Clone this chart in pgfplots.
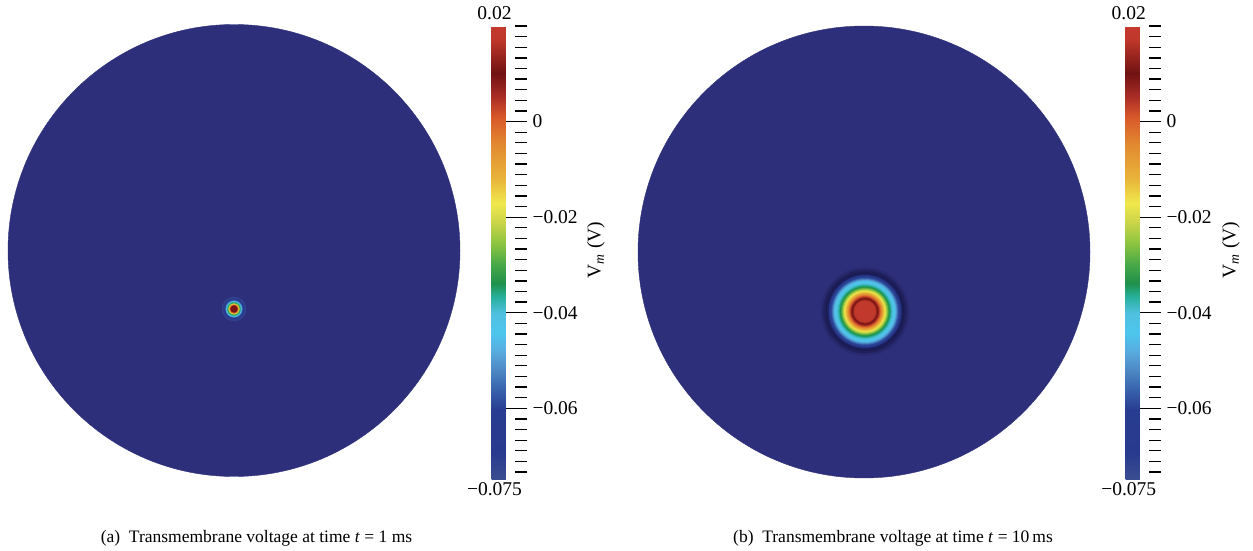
\documentclass[border=0pt]{standalone}
\usepackage{pgfplots}
\pgfplotsset{compat=1.18}
\usepackage{pgfplotstable}
\usepackage{fontspec}
\setmainfont{Liberation Serif}

\definecolor{bgdisk}{RGB}{46,47,122}
\definecolor{rimA}{RGB}{40,41,110}
\definecolor{rimB}{RGB}{31,32,92}
\definecolor{rimC}{RGB}{26,27,80}
\definecolor{rimD}{RGB}{30,34,100}

% rainbow map for V_m, positions = (V + 0.075) * 1000
\pgfplotsset{
  colormap={vm}{
    rgb255(0pt)=(60,78,145);
    rgb255(0.7pt)=(58,76,144);
    rgb255(5.6pt)=(40,58,142);
    rgb255(14.6pt)=(40,60,144);
    rgb255(19.5pt)=(58,104,176);
    rgb255(23pt)=(76,136,196);
    rgb255(26.5pt)=(88,168,220);
    rgb255(30.7pt)=(78,198,238);
    rgb255(34.9pt)=(80,192,224);
    rgb255(38.4pt)=(38,176,154);
    rgb255(41.2pt)=(32,144,74);
    rgb255(45.3pt)=(74,170,72);
    rgb255(49.5pt)=(140,196,64);
    rgb255(53.7pt)=(200,212,72);
    rgb255(57.9pt)=(240,232,76);
    rgb255(63.1pt)=(232,180,58);
    rgb255(70.1pt)=(226,138,48);
    rgb255(76pt)=(216,88,42);
    rgb255(80.2pt)=(170,45,38);
    rgb255(85.1pt)=(112,18,18);
    rgb255(92.1pt)=(190,55,42);
    rgb255(95pt)=(195,58,45)
  },
  disk/.style={
    hide axis, scale only axis, x=1pt, y=1pt,
    xmin=-230, xmax=230, ymin=-230, ymax=230,
    anchor=center, clip=false,
    colormap name=vm, point meta min=-0.075, point meta max=0.02,
    colorbar,
    colorbar style={
      at={(parent axis.north east)}, anchor=north west,
      width=23.5pt, height=454pt, scale only axis,
      scaled y ticks=false,
      ytick={-0.06,-0.04,-0.02,0},
      yticklabels={−0.06,−0.04,−0.02,0},
      minor ytick={-0.073333,-0.071111,...,0.0195},
      ytick pos=right, yticklabel pos=right,
      tick align=outside,
      major tick length=11pt, minor tick length=12pt,
      every major tick/.append style={line width=1.3pt, black},
      every minor tick/.append style={line width=1.3pt, black},
      extra y ticks={-0.06,-0.04,-0.02,0},
      extra y tick labels={},
      extra y tick style={tick align=inside, major tick length=9pt},
      yticklabel style={font=\fontsize{19.5}{20}\selectfont, xshift=3pt},
      axis line style={draw=none},
    },
  },
  ring/.style={
    scatter, only marks, mark=*, point meta=explicit,
    scatter/use mapped color={draw=mapped color, fill=mapped color, line width=0.3pt},
    visualization depends on={\thisrow{r} \as \rr},
    scatter/@pre marker code/.append style={/tikz/mark size=\rr pt},
  },
}

% radial V_m profiles of the excited spot (r in pt, v in V)
\pgfplotstableread{
x y r v
0 -58.5 12 -0.073
0 -58.5 11 -0.070
0 -58.5 10 -0.066
0 -58.5 9 -0.060
0 -58.5 8.5 -0.055
0 -58.5 8 -0.049
0 -58.5 7.5 -0.043
0 -58.5 7 -0.039
0 -58.5 6.5 -0.035
0 -58.5 6 -0.030
0 -58.5 5.5 -0.022
0 -58.5 5 -0.014
0 -58.5 4.5 -0.005
0 -58.5 4 0.002
0 -58.5 3.5 0.007
0 -58.5 3 0.010
0 -58.5 2 0.011
}\spotA

\pgfplotstableread{
x y r v
1 -59.5 36 -0.067
1 -59.5 35 -0.063
1 -59.5 34 -0.059
1 -59.5 33 -0.055
1 -59.5 32 -0.051
1 -59.5 31 -0.047
1 -59.5 30 -0.044
1 -59.5 29 -0.042
1 -59.5 28 -0.040
1 -59.5 27 -0.038
1 -59.5 26 -0.036
1 -59.5 25 -0.034
1 -59.5 24 -0.031
1 -59.5 23 -0.027
1 -59.5 22 -0.023
1 -59.5 21 -0.019
1 -59.5 20 -0.016
1 -59.5 19 -0.012
1 -59.5 18 -0.009
1 -59.5 17 -0.005
1 -59.5 16 -0.001
1 -59.5 15 0.003
1 -59.5 14 0.007
1 -59.5 13 0.010
1 -59.5 12 0.014
1 -59.5 11 0.017
1 -59.5 10 0.019
1 -59.5 5 0.0195
}\spotB

\begin{document}
\begin{tikzpicture}
\useasboundingbox (0,0) rectangle (1253pt,550pt);

% (a) t = 1 ms
\begin{axis}[disk, at={(234pt,299.5pt)},
  colorbar style={xshift=19pt, yshift=-5.5pt}]
  \addplot[only marks, mark=*, mark size=226pt,
    mark options={fill=bgdisk, draw=bgdisk}] coordinates {(0,0)};
  \addplot[ring] table[x=x, y=y, meta=v] {\spotA};
\end{axis}

% (b) t = 10 ms
\begin{axis}[disk, at={(864pt,298pt)},
  colorbar style={xshift=23pt, yshift=-4pt}]
  \addplot[only marks, mark=*, mark size=226pt,
    mark options={fill=bgdisk, draw=bgdisk}] coordinates {(0,0)};
  \addplot[only marks, mark=*, mark size=44pt,
    mark options={fill=rimA, draw=rimA}] coordinates {(1,-59.5)};
  \addplot[only marks, mark=*, mark size=41.5pt,
    mark options={fill=rimB, draw=rimB}] coordinates {(1,-59.5)};
  \addplot[only marks, mark=*, mark size=39pt,
    mark options={fill=rimC, draw=rimC}] coordinates {(1,-59.5)};
  \addplot[only marks, mark=*, mark size=37.5pt,
    mark options={fill=rimD, draw=rimD}] coordinates {(1,-59.5)};
  \addplot[ring] table[x=x, y=y, meta=v] {\spotB};
\end{axis}

% colour bar end values and titles
\begin{scope}[every node/.style={font=\fontsize{19.5}{20}\selectfont, inner sep=0pt}]
  \node[anchor=base] at (494.5pt,530.7pt) {0.02};
  \node[anchor=base] at (494.5pt,54.5pt) {−0.075};
  \node[anchor=base] at (1128.7pt,530.7pt) {0.02};
  \node[anchor=base] at (1128.7pt,54.5pt) {−0.075};
  \node[rotate=90] at (596pt,300pt) {V\textsubscript{\textit{m}} (V)};
  \node[rotate=90] at (1231pt,300pt) {V\textsubscript{\textit{m}} (V)};
\end{scope}

% sub-figure captions
\begin{scope}[every node/.style={font=\fontsize{17.5}{20}\selectfont, inner sep=0pt, anchor=base}]
  \node at (256.5pt,7.3pt) {(a)\enspace Transmembrane voltage at time \textit{t} = 1 ms};
  \node at (893pt,7.3pt) {(b)\enspace Transmembrane voltage at time \textit{t} = 10\,ms};
\end{scope}
\end{tikzpicture}
\end{document}
